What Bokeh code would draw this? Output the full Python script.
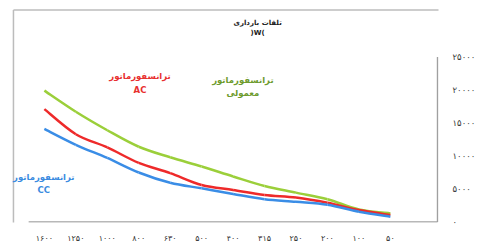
from bokeh.plotting import figure
from bokeh.models import Range1d, FixedTicker
from bokeh.core.properties import value
from bokeh.embed import file_html
from bokeh.resources import INLINE

# ---- data ----
categories = ["۱۶۰۰", "۱۲۵۰", "۱۰۰۰", "۸۰۰", "۶۳۰", "۵۰۰", "۴۰۰", "۳۱۵", "۲۵۰", "۲۰۰", "۱۰۰", "۵۰"]
normal_loss = [19900, 16700, 13900, 11400, 9800, 8400, 6900, 5450, 4450, 3450, 1900, 1300]
ac_loss = [17100, 13300, 11300, 8950, 7400, 5600, 4850, 4100, 3700, 2900, 1800, 1050]
cc_loss = [14100, 11700, 9700, 7500, 5950, 5100, 4250, 3450, 3050, 2600, 1550, 800]
y_ticks = [0, 5000, 10000, 15000, 20000, 25000]
y_tick_labels = ["۰", "۵۰۰۰", "۱۰۰۰۰", "۱۵۰۰۰", "۲۰۰۰۰", "۲۵۰۰۰"]
title_lines = ["تلفات بارداری", ")W("]
label_ac = ["ترانسفورماتور", "AC"]
label_normal = ["ترانسفورماتور", "معمولی"]
label_cc = ["ترانسفورماتور", "CC"]

GREEN = "#9BCF3A"
RED = "#EE2A2A"
BLUE = "#3A8DE6"
GRAY = "#a0a0a0"
FONT = "DejaVu Sans"

n = len(categories)
xs = list(range(n))

p = figure(frame_width=438, frame_height=222, output_backend="svg", toolbar_location=None,
           x_range=Range1d(-1.395, 12.53), y_range=Range1d(-80, 33560),
           y_axis_location="right",
           min_border_left=0, min_border_right=54, min_border_top=0, min_border_bottom=28)
p.outline_line_color = None
p.xgrid.visible = False
p.ygrid.visible = False
p.background_fill_color = "white"
p.border_fill_color = "white"


def smooth(ys):
    m = len(ys)
    seg = dict(x0=[], y0=[], x1=[], y1=[], cx0=[], cy0=[], cx1=[], cy1=[])
    for i in range(m - 1):
        a = i - 1 if i > 0 else i
        d = i + 2 if i + 2 < m else i + 1
        seg["x0"].append(xs[i]); seg["y0"].append(ys[i])
        seg["x1"].append(xs[i + 1]); seg["y1"].append(ys[i + 1])
        seg["cx0"].append(xs[i] + (xs[i + 1] - xs[a]) / 6)
        seg["cy0"].append(ys[i] + (ys[i + 1] - ys[a]) / 6)
        seg["cx1"].append(xs[i + 1] - (xs[d] - xs[i]) / 6)
        seg["cy1"].append(ys[i + 1] - (ys[d] - ys[i]) / 6)
    return seg


# chart-area border (left and top edges)
bx, by = -0.983, 32120
p.segment(x0=[bx, bx], y0=[-1000, by], x1=[bx, 20], y1=[by, by],
          line_color="#bcbcbc", line_width=1.5)

for ys, col in [(normal_loss, GREEN), (ac_loss, RED), (cc_loss, BLUE)]:
    p.bezier(source=smooth(ys), x0="x0", y0="y0", x1="x1", y1="y1",
             cx0="cx0", cy0="cy0", cx1="cx1", cy1="cy1",
             line_color=col, line_width=2.5)

# axis lines limited to the plotting area
x_lo, x_hi = -0.5, n + 0.5
p.segment(x0=[x_lo, x_hi], y0=[0, 0], x1=[x_hi, x_hi], y1=[0, y_ticks[-1]],
          line_color=GRAY, line_width=1.5)

xa = p.xaxis[0]
xa.ticker = FixedTicker(ticks=xs)
xa.major_label_overrides = {i: c for i, c in enumerate(categories)}
xa.major_tick_line_color = None
xa.minor_tick_line_color = None
xa.axis_line_color = None
xa.major_label_standoff = 5
xa.major_label_text_font = FONT
xa.major_label_text_font_size = "8px"
xa.major_label_text_color = "#333333"

ya = p.yaxis[0]
ya.ticker = FixedTicker(ticks=y_ticks)
ya.major_label_overrides = {t: l for t, l in zip(y_ticks, y_tick_labels)}
ya.major_tick_line_color = None
ya.minor_tick_line_color = None
ya.axis_line_color = None
ya.major_label_standoff = 8
ya.major_label_text_font = FONT
ya.major_label_text_font_size = "8.5px"
ya.major_label_text_color = "#333333"


def add_text(lines, x, y, color, size, dy):
    p.text(x=[x] * len(lines), y=[y - k * dy for k in range(len(lines))], text=lines,
           text_color=color, text_font=value(FONT), text_font_size=size,
           text_font_style="bold", text_align="center", text_baseline="middle")


add_text(title_lines, 6.78, 30150, "#222222", "7px", 1500)
add_text(label_ac, 3.04, 22100, "#E8302F", "8.5px", 2100)
add_text(label_normal, 6.31, 21500, "#6E9B2E", "8.5px", 1950)
add_text(label_cc, -0.02, 6820, "#3B8BE0", "8.5px", 1970)

open("out.html", "w").write(file_html(p, INLINE))
